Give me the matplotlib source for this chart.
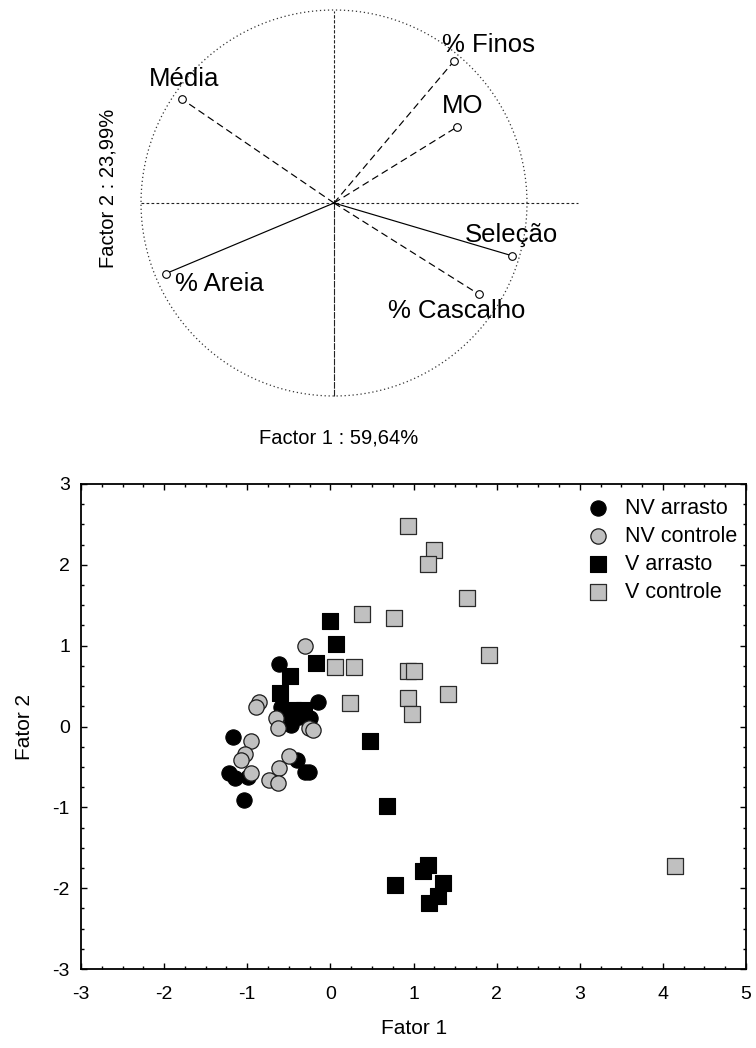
import matplotlib
matplotlib.use("Agg")
import matplotlib.pyplot as plt
import numpy as np
from matplotlib.ticker import MultipleLocator

plt.rcParams['font.family'] = ['Liberation Sans', 'DejaVu Sans']
plt.rcParams['axes.unicode_minus'] = False

# ---------------- data: PCA loadings (top) ----------------
var_names = ["% Finos", "MO", "Média", "% Areia", "Seleção", "% Cascalho"]
load_f1 = [0.623, 0.639, -0.789, -0.872, 0.921, 0.751]
load_f2 = [0.737, 0.395, 0.539, -0.366, -0.273, -0.473]
var_dashed = [True, True, True, False, False, True]
factor1_label = "Factor 1 : 59,64%"
factor2_label = "Factor 2 : 23,99%"

# ---------------- data: scores (bottom) ----------------
nv_arrasto_x = [-0.62, -0.15, -0.60, -0.47, -0.25, -0.38, -0.55, -1.17, -1.22, -1.15, -0.99, -1.04, -0.40, -0.30, -0.26]
nv_arrasto_y = [0.77, 0.30, 0.24, 0.02, 0.11, 0.12, 0.17, -0.13, -0.57, -0.64, -0.62, -0.91, -0.41, -0.56, -0.56]
nv_controle_x = [-0.31, -0.86, -0.90, -0.65, -0.63, -0.26, -0.21, -0.95, -1.03, -1.08, -0.96, -0.50, -0.62, -0.74, -0.63]
nv_controle_y = [0.99, 0.30, 0.24, 0.10, -0.02, -0.02, -0.04, -0.18, -0.34, -0.41, -0.57, -0.37, -0.51, -0.66, -0.70]
v_arrasto_x = [-0.01, 0.07, -0.17, -0.49, -0.61, -0.45, -0.32, 0.48, 0.68, 0.78, 1.18, 1.11, 1.36, 1.30, 1.19]
v_arrasto_y = [1.30, 1.02, 0.79, 0.62, 0.41, 0.20, 0.20, -0.18, -0.98, -1.96, -1.71, -1.79, -1.93, -2.10, -2.18]
v_controle_x = [0.93, 1.25, 1.17, 1.64, 1.91, 0.38, 0.76, 0.05, 0.29, 0.24, 0.93, 1.01, 0.93, 0.98, 1.42, 4.15]
v_controle_y = [2.48, 2.18, 2.01, 1.59, 0.88, 1.39, 1.34, 0.74, 0.74, 0.29, 0.69, 0.69, 0.35, 0.15, 0.40, -1.73]
series_labels = ["NV arrasto", "NV controle", "V arrasto", "V controle"]
x_ticks = [-3, -2, -1, 0, 1, 2, 3, 4, 5]
y_ticks = [-3, -2, -1, 0, 1, 2, 3]

W, H = 756, 1048
fig = plt.figure(figsize=(W / 100, H / 100), dpi=100)

# ---------------- top: correlation circle ----------------
cx, cy, R = 334, 203, 193
L, Rr, T, B = 100, 600, 0, 420
ax1 = fig.add_axes([L / W, 1 - B / H, (Rr - L) / W, (B - T) / H])
ax1.set_xlim((L - cx) / R, (Rr - cx) / R)
ax1.set_ylim((cy - B) / R, (cy - T) / R)
ax1.axis('off')

th = np.linspace(0, 2 * np.pi, 400)
ax1.plot(np.cos(th), np.sin(th), color='#333333', lw=0.9, linestyle=(0, (1, 2.2)))
ax1.plot([-1.0, 1.264], [0, 0], color='#222222', lw=0.8, linestyle=(0, (2.5, 2)))
ax1.plot([0, 0], [0, 0.995], color='#222222', lw=0.8, linestyle=(0, (3, 1.5)))
ax1.plot([0, 0], [-1.0, 0], color='#222222', lw=0.8, linestyle=(0, (6, 1)))

for x, y, d in zip(load_f1, load_f2, var_dashed):
    ls = (0, (6, 3.5)) if d else '-'
    ax1.plot([0, x], [0, y], color='black', lw=0.85, linestyle=ls)
    ax1.plot([x], [y], marker='o', ms=5.5, mfc='white', mec='black', mew=0.8)

lab_pos = {"% Finos": (442, 52), "MO": (442, 113), "Média": (149, 86),
           "% Areia": (175, 291), "Seleção": (465, 242), "% Cascalho": (388, 318)}
for name in var_names:
    px, py = lab_pos[name]
    fig.text(px / W, 1 - py / H, name, fontsize=18.5, ha='left', va='baseline')

fig.text(339 / W, 1 - 438 / H, factor1_label, fontsize=14.5, ha='center', va='center')
fig.text(108 / W, 1 - 188 / H, factor2_label, fontsize=14.5, ha='center', va='center', rotation=90)

# ---------------- bottom: scores scatter ----------------
ax2 = fig.add_axes([81 / W, 1 - 969 / H, 665 / W, 485 / H])
gray = '#c0c0c0'
ax2.scatter(nv_arrasto_x, nv_arrasto_y, s=11 ** 2, marker='o', facecolor='black', edgecolor='black', lw=0.8, label=series_labels[0], zorder=3)
ax2.scatter(nv_controle_x, nv_controle_y, s=11 ** 2, marker='o', facecolor=gray, edgecolor='#1a1a1a', lw=0.9, label=series_labels[1], zorder=3)
ax2.scatter(v_arrasto_x, v_arrasto_y, s=11.5 ** 2, marker='s', facecolor='black', edgecolor='black', lw=0.8, label=series_labels[2], zorder=3)
ax2.scatter(v_controle_x, v_controle_y, s=11.5 ** 2, marker='s', facecolor=gray, edgecolor='#2a2a2a', lw=0.9, label=series_labels[3], zorder=3)

ax2.set_xlim(-3, 5)
ax2.set_ylim(-3, 3)
ax2.set_xticks(x_ticks)
ax2.set_yticks(y_ticks)
ax2.xaxis.set_minor_locator(MultipleLocator(0.25))
ax2.yaxis.set_minor_locator(MultipleLocator(0.25))
ax2.tick_params(which='both', direction='in', top=True, right=True, width=1.0, colors='black')
ax2.tick_params(which='major', length=4)
ax2.tick_params(which='minor', length=2.5)
ax2.tick_params(axis='x', which='major', labelsize=14, pad=12.5)
ax2.tick_params(axis='y', which='major', labelsize=14, pad=8)
for sp in ax2.spines.values():
    sp.set_linewidth(1.3)

fig.text(414 / W, 1 - 1029 / H, "Fator 1", fontsize=15, ha='center', va='center')
fig.text(24 / W, 1 - 727 / H, "Fator 2", fontsize=15, ha='center', va='center', rotation=90)

ax2.legend(loc='upper left', bbox_to_anchor=((587 - 81) / 665, (969 - 498) / 485),
           frameon=False, fontsize=15.5, handlelength=1.0, handletextpad=0.75,
           labelspacing=0.32, borderpad=0, borderaxespad=0, scatterpoints=1)

fig.savefig("out.png", dpi=100)
